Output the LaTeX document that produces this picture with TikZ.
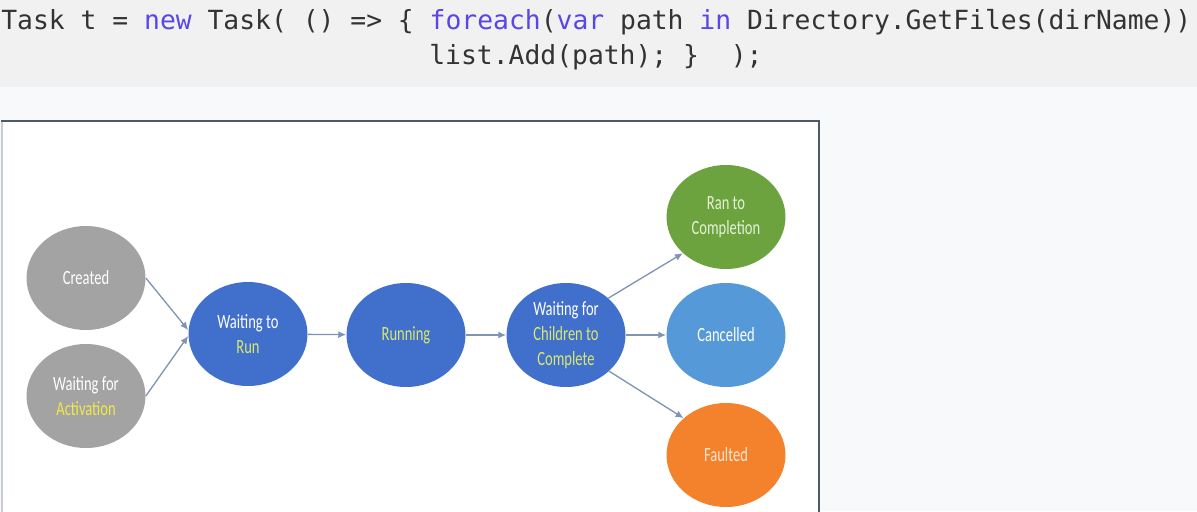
\documentclass[tikz,border=0pt]{standalone}
\usepackage{fontspec}
\setmainfont{Carlito}
\setmonofont{DejaVu Sans Mono}
\usetikzlibrary{shapes.geometric,arrows.meta,calc}
\definecolor{codebg}{HTML}{F1F1F1}
\definecolor{pagebg}{HTML}{F8F9FB}
\definecolor{codefg}{HTML}{333333}
\definecolor{kw}{HTML}{5A45E6}
\definecolor{boxline}{HTML}{505A66}
\definecolor{boxleft}{HTML}{C8CCD2}
\definecolor{cgray}{HTML}{A3A3A3}
\definecolor{cblue}{HTML}{4170CC}
\definecolor{cgreen}{HTML}{6CA33F}
\definecolor{clblue}{HTML}{5599D8}
\definecolor{corange}{HTML}{F4822C}
\definecolor{ylgreen}{HTML}{D8E86E}
\definecolor{yel}{HTML}{F2E84A}
\definecolor{lgreen}{HTML}{E4F1D6}
\definecolor{lorange}{HTML}{FCE6D2}
\definecolor{arrowc}{HTML}{7F93B5}
\newcommand{\nar}[1]{\scalebox{0.72}[1]{#1}}
\newcommand{\kwd}[1]{\textcolor{kw}{#1}}
\tikzset{
  state/.style={ellipse, minimum width=2.38cm, minimum height=2.08cm, inner sep=0pt,
    align=center, text=white, font=\fontsize{11.5}{14.2}\selectfont},
  conn/.style={draw=arrowc, line width=0.75pt, -{Latex[length=4.5pt,width=4pt]}},
  code/.style={inner sep=0pt, anchor=base west, text=codefg,
    font=\ttfamily\fontsize{15}{18}\selectfont}
}
\begin{document}
\begin{tikzpicture}[x=0.02cm, y=-0.02cm]
\useasboundingbox (0,0) rectangle (1197,511);
\fill[pagebg] (0,0) rectangle (1197,511);
\fill[codebg] (0,0) rectangle (1197,87);
\node[code] (line1) at (1,29) {Task t = \kwd{new} Task( () => \{ \kwd{foreach}(\kwd{var} path \kwd{in} Directory.GetFiles(dirName))};
\node[code] (line2) at (429,64) {list.Add(path); \}\ \ );};
\fill[white] (1,121) rectangle (819,520);
\draw[boxleft, line width=0.8pt] (2,121) -- (2,520);
\draw[boxline, line width=1.2pt] (1,121) -- (819,121) -- (819,520);

\node[state, fill=cgray] (created) at (86,278) {\nar{Created}};
\node[state, fill=cgray] (activation) at (86,396) {\nar{Waiting for}\\\nar{\textcolor{yel}{Activation}}};
\node[state, fill=cblue] (wtr) at (248,334) {\nar{Waiting to}\\\nar{\textcolor{ylgreen}{Run}}};
\node[state, fill=cblue] (running) at (406,335) {\nar{\textcolor{ylgreen}{Running}}};
\node[state, fill=cblue] (wfc) at (566,335) {\nar{Waiting for}\\\nar{\textcolor{ylgreen}{Children to}}\\\nar{\textcolor{ylgreen}{Complete}}};
\node[state, fill=cgreen, text=lgreen] (ran) at (726,217) {\nar{Ran to}\\\nar{Completion}};
\node[state, fill=clblue] (cancelled) at (726,335) {\nar{Cancelled}};
\node[state, fill=corange, text=lorange] (faulted) at (726,455) {\nar{Faulted}};

\draw[conn] (created.east) -- ($(wtr.west)+(0,-4)$);
\draw[conn] (activation.east) -- ($(wtr.west)+(0,2)$);
\draw[conn] (wtr) -- (running);
\draw[conn] (running) -- (wfc);
\draw[conn] (wfc.41) -- (ran.220);
\draw[conn] (wfc) -- (cancelled);
\draw[conn] (wfc.-40) -- (faulted.139);
\end{tikzpicture}
\end{document}
